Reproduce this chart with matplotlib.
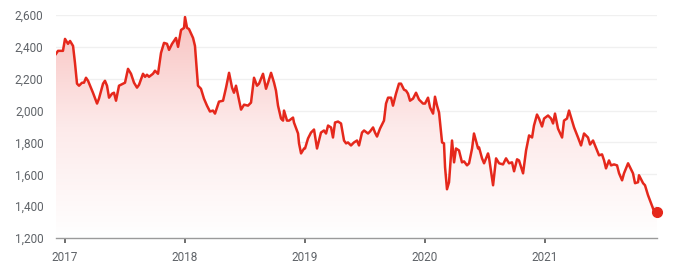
import numpy as np
import matplotlib
matplotlib.use('Agg')
import matplotlib.pyplot as plt
from matplotlib.colors import LinearSegmentedColormap
from matplotlib.ticker import FuncFormatter

# decimal years and closing values
years = [
    2016.925, 2016.942, 2016.983, 2017.000, 2017.025, 2017.042, 2017.067, 2017.083,
    2017.100, 2017.117, 2017.142, 2017.158, 2017.175, 2017.192, 2017.233, 2017.267,
    2017.283, 2017.317, 2017.333, 2017.350, 2017.367, 2017.392, 2017.408, 2017.425,
    2017.450, 2017.483, 2017.500, 2017.525, 2017.550, 2017.575, 2017.600, 2017.617,
    2017.650, 2017.667, 2017.683, 2017.700, 2017.733, 2017.750, 2017.775, 2017.800,
    2017.825, 2017.850, 2017.867, 2017.892, 2017.925, 2017.942, 2017.967, 2017.992,
    2018.000, 2018.017, 2018.033, 2018.067, 2018.083, 2018.108, 2018.133, 2018.158,
    2018.183, 2018.208, 2018.233, 2018.250, 2018.283, 2018.317, 2018.342, 2018.367,
    2018.392, 2018.408, 2018.425, 2018.442, 2018.467, 2018.492, 2018.525, 2018.550,
    2018.575, 2018.600, 2018.617, 2018.650, 2018.675, 2018.692, 2018.717, 2018.742,
    2018.758, 2018.775, 2018.800, 2018.817, 2018.825, 2018.850, 2018.867, 2018.900,
    2018.908, 2018.942, 2018.950, 2018.967, 2018.992, 2019.000, 2019.025, 2019.050,
    2019.075, 2019.100, 2019.133, 2019.158, 2019.175, 2019.192, 2019.217, 2019.233,
    2019.250, 2019.275, 2019.300, 2019.325, 2019.342, 2019.358, 2019.383, 2019.408,
    2019.433, 2019.450, 2019.475, 2019.492, 2019.525, 2019.542, 2019.567, 2019.583,
    2019.600, 2019.625, 2019.658, 2019.675, 2019.692, 2019.717, 2019.733, 2019.758,
    2019.783, 2019.800, 2019.825, 2019.842, 2019.858, 2019.875, 2019.900, 2019.925,
    2019.950, 2019.983, 2020.000, 2020.025, 2020.042, 2020.067, 2020.083, 2020.100,
    2020.117, 2020.142, 2020.158, 2020.167, 2020.183, 2020.200, 2020.225, 2020.242,
    2020.258, 2020.283, 2020.308, 2020.325, 2020.350, 2020.367, 2020.392, 2020.408,
    2020.442, 2020.450, 2020.475, 2020.492, 2020.525, 2020.533, 2020.567, 2020.592,
    2020.617, 2020.650, 2020.675, 2020.700, 2020.725, 2020.742, 2020.767, 2020.783,
    2020.817, 2020.842, 2020.867, 2020.892, 2020.908, 2020.933, 2020.950, 2020.975,
    2020.992, 2021.025, 2021.050, 2021.067, 2021.083, 2021.108, 2021.142, 2021.158,
    2021.183, 2021.200, 2021.225, 2021.242, 2021.275, 2021.300, 2021.325, 2021.358,
    2021.375, 2021.400, 2021.417, 2021.450, 2021.475, 2021.492, 2021.508, 2021.533,
    2021.550, 2021.575, 2021.600, 2021.617, 2021.642, 2021.658, 2021.692, 2021.708,
    2021.733, 2021.750, 2021.775, 2021.783, 2021.817, 2021.833, 2021.858, 2021.883,
    2021.908, 2021.933,
]
prices = [
    2356, 2375, 2375, 2450, 2419, 2437, 2406, 2300,
    2169, 2156, 2175, 2175, 2206, 2187, 2112, 2044,
    2075, 2169, 2187, 2156, 2081, 2106, 2112, 2062,
    2156, 2169, 2175, 2262, 2231, 2175, 2144, 2162,
    2231, 2212, 2225, 2212, 2231, 2250, 2231, 2362,
    2425, 2419, 2381, 2419, 2456, 2400, 2506, 2519,
    2587, 2519, 2512, 2456, 2406, 2156, 2137, 2075,
    2031, 1994, 2000, 1981, 2056, 2062, 2144, 2237,
    2144, 2112, 2156, 2094, 2006, 2037, 2031, 2050,
    2206, 2156, 2169, 2231, 2137, 2175, 2237, 2175,
    2125, 2031, 1950, 1937, 2000, 1937, 1937, 1956,
    1925, 1856, 1794, 1731, 1762, 1762, 1825, 1862,
    1881, 1762, 1862, 1875, 1856, 1906, 1894, 1831,
    1925, 1931, 1919, 1812, 1794, 1800, 1781, 1800,
    1812, 1781, 1862, 1875, 1856, 1869, 1894, 1862,
    1837, 1887, 1937, 2044, 2081, 2081, 2031, 2106,
    2169, 2169, 2131, 2125, 2106, 2062, 2075, 2112,
    2069, 2044, 2044, 2081, 2019, 1981, 2087, 2031,
    1987, 1800, 1794, 1644, 1506, 1550, 1812, 1675,
    1762, 1750, 1675, 1681, 1656, 1669, 1762, 1856,
    1762, 1769, 1700, 1669, 1731, 1706, 1531, 1700,
    1669, 1662, 1700, 1669, 1675, 1619, 1694, 1687,
    1606, 1750, 1844, 1831, 1906, 1975, 1950, 1900,
    1950, 1969, 1950, 1919, 1981, 1887, 1831, 1937,
    1950, 2000, 1937, 1894, 1831, 1781, 1856, 1831,
    1787, 1812, 1781, 1719, 1725, 1687, 1637, 1687,
    1656, 1662, 1656, 1606, 1562, 1606, 1669, 1644,
    1606, 1544, 1550, 1594, 1544, 1531, 1469, 1419,
    1369, 1362,
]
year_ticks = [2017, 2018, 2019, 2020, 2021]
price_ticks = [1200, 1400, 1600, 1800, 2000, 2200, 2400, 2600]

RED = '#e5281c'
TEXT = '#5f6368'

plt.rcParams['font.family'] = ['Roboto', 'DejaVu Sans']

fig = plt.figure(figsize=(6.75, 2.78), dpi=100)
ax = fig.add_axes([56 / 675, 1 - 238 / 278, 601 / 675, 223 / 278])

x = np.array(years)
y = np.array(prices)
ymin, ymax = 1200, 2600

# gradient fill under the line
poly = ax.fill_between(x, y, ymin, color='none', linewidth=0)
cmap = LinearSegmentedColormap.from_list('fade', ['#ffffff', '#fdeaea', '#f8c2c0'])
grad = np.linspace(0, 1, 256).reshape(-1, 1)
img = ax.imshow(grad, cmap=cmap, aspect='auto', origin='lower',
                extent=[x[0], x[-1], ymin, ymax], zorder=1)
img.set_clip_path(poly.get_paths()[0], transform=ax.transData)

ax.plot(x, y, color=RED, linewidth=1.8, zorder=3, solid_joinstyle='round')
ax.plot(x[-1], y[-1], 'o', color=RED, markersize=7, zorder=4, clip_on=False)

ax.set_xlim(x[0], x[-1])
ax.set_ylim(ymin, ymax)
ax.set_yticks(price_ticks)
ax.yaxis.set_major_formatter(FuncFormatter(lambda v, p: f'{int(v):,}'))
ax.set_xticks(year_ticks)
ax.set_xticklabels([str(t) for t in year_ticks])

ax.grid(axis='y', color='#f0f0f0', linewidth=1)
ax.set_axisbelow(True)
for s in ['top', 'right', 'left']:
    ax.spines[s].set_visible(False)
ax.spines['bottom'].set_color('#9a9a9a')
ax.spines['bottom'].set_linewidth(1)

ax.tick_params(axis='y', length=0, pad=9, labelsize=8.5, labelcolor=TEXT)
ax.tick_params(axis='x', length=3.5, width=1.2, color='#555555', pad=6,
               labelsize=8.5, labelcolor=TEXT)

fig.savefig('out.png', dpi=100)
